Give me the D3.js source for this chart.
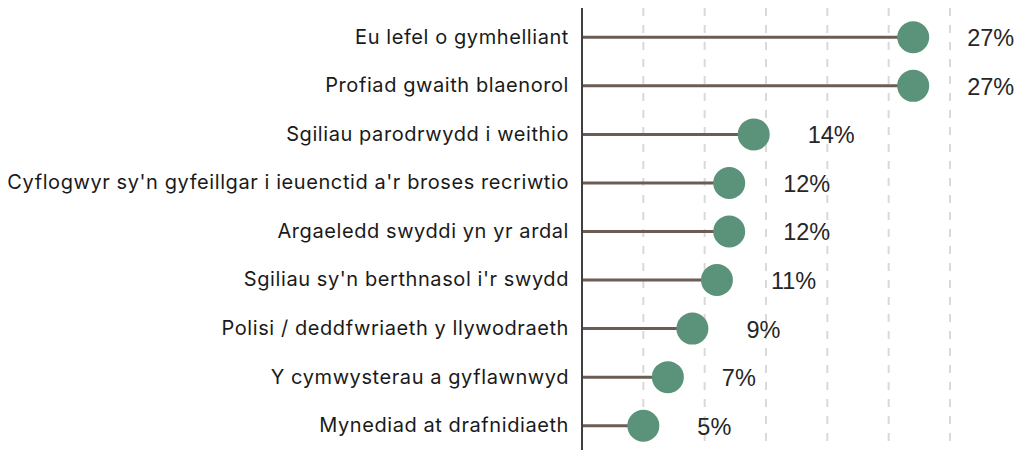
<!DOCTYPE html>
<html>
<head>
<meta charset="utf-8">
<script src="https://cdn.jsdelivr.net/npm/d3@7"></script>
<style>
  body { margin: 0; background: #fff; }
</style>
</head>
<body>
<svg id="chart"></svg>
<script>
const categories = [
    "Eu lefel o gymhelliant",
    "Profiad gwaith blaenorol",
    "Sgiliau parodrwydd i weithio",
    "Cyflogwyr sy'n gyfeillgar i ieuenctid a'r broses recriwtio",
    "Argaeledd swyddi yn yr ardal",
    "Sgiliau sy'n berthnasol i'r swydd",
    "Polisi / deddfwriaeth y llywodraeth",
    "Y cymwysterau a gyflawnwyd",
    "Mynediad at drafnidiaeth"
]
const values = [27, 27, 14, 12, 12, 11, 9, 7, 5]
const gridTicks = [5, 10, 15, 20, 25, 30]

const width = 1021,
    height = 450
var margin = { top: 13, right: 71, bottom: 0, left: 582 }

var svg = d3.select("#chart")
    .attr("width", width)
    .attr("height", height)

var x = d3.scaleLinear()
    .domain([0, 30])
    .range([margin.left, width - margin.right])
var y = d3.scaleBand()
    .domain(categories)
    .range([margin.top, height - margin.bottom])

var data = categories.map((c, i) => ({ cat: c, val: values[i] }))

// dashed gridlines
svg.append("g")
    .selectAll("line")
    .data(gridTicks)
    .join("line")
    .attr("x1", d => x(d)).attr("x2", d => x(d))
    .attr("y1", 8).attr("y2", height)
    .attr("stroke", "#d9d9d9")
    .attr("stroke-width", 2)
    .attr("stroke-dasharray", "8,9")

// stems
svg.append("g")
    .selectAll("line")
    .data(data)
    .join("line")
    .attr("x1", x(0))
    .attr("x2", d => x(d.val))
    .attr("y1", d => y(d.cat) + y.bandwidth() / 2)
    .attr("y2", d => y(d.cat) + y.bandwidth() / 2)
    .attr("stroke", "#6b5d55")
    .attr("stroke-width", 3)

// category axis
var yAxis = g => g
    .attr("transform", `translate(${x(0)},0)`)
    .call(d3.axisLeft(y).tickSize(0).tickPadding(13))
    .call(g => g.select(".domain").remove())
    .call(g => g.selectAll("text")
        .attr("font-family", "Inter, 'Open Sans', sans-serif")
        .attr("font-size", 20)
        .attr("letter-spacing", "0.58px")
        .attr("fill", "#1a1a1a"))
svg.append("g").call(yAxis)

svg.append("line")
    .attr("x1", x(0)).attr("x2", x(0))
    .attr("y1", 8).attr("y2", height)
    .attr("stroke", "#404040")
    .attr("stroke-width", 2)

// dots
svg.append("g")
    .selectAll("circle")
    .data(data)
    .join("circle")
    .attr("cx", d => x(d.val))
    .attr("cy", d => y(d.cat) + y.bandwidth() / 2)
    .attr("r", 16)
    .attr("fill", "#5b937a")

// value labels
svg.append("g")
    .selectAll("text")
    .data(data)
    .join("text")
    .attr("x", d => x(d.val) + 54)
    .attr("y", d => y(d.cat) + y.bandwidth() / 2)
    .attr("dy", "0.38em")
    .attr("font-family", "'Liberation Sans', Arial, sans-serif")
    .attr("font-size", 23.5)
    .attr("fill", "#262626")
    .text(d => d.val + "%")
</script>
</body>
</html>
